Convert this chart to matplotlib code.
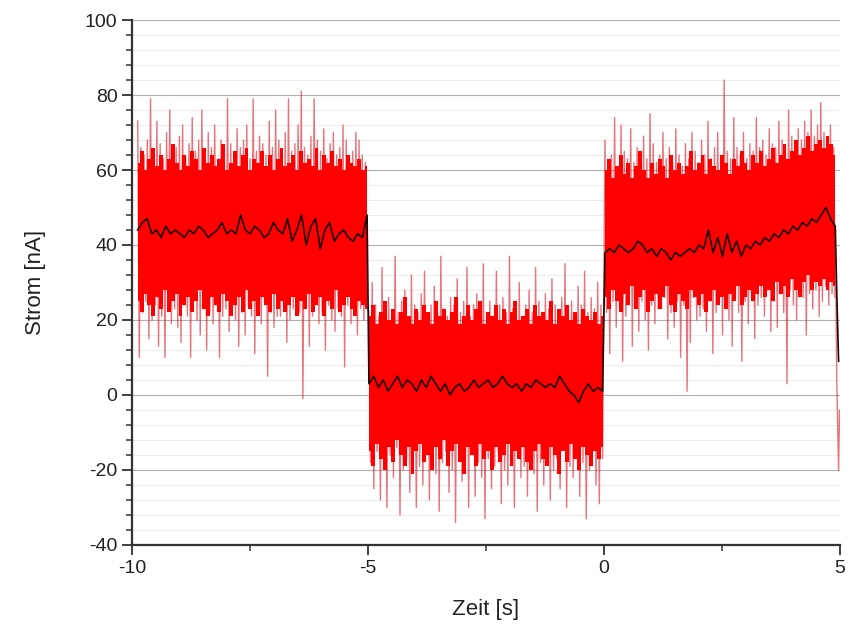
import numpy as np
import matplotlib.pyplot as plt
from matplotlib.ticker import MultipleLocator

# Peak values of the raw current trace (alternating high / low excursions)
seg1_hi = [73, 66, 64, 68, 79, 65, 73, 67, 63, 70, 76, 64, 66, 69, 72, 63, 67, 74, 65, 68, 76, 64, 70, 66,
           72, 63, 68, 65, 79, 67, 64, 71, 66, 68, 72, 63, 79, 65, 69, 67, 64, 73, 66, 76, 68, 64, 70, 79,
           65, 67, 72, 81, 66, 64, 69, 79, 68, 65, 71, 63, 67, 70, 64, 66, 72, 68, 63, 65, 70, 68, 64, 62]
seg1_lo = [10, 22, 25, 15, 20, 24, 13, 21, 10, 26, 19, 23, 18, 14, 24, 21, 10, 25, 20, 16, 23, 12, 22, 19,
           24, 10, 21, 23, 17, 25, 20, 13, 22, 16, 24, 21, 11, 23, 19, 25, 5, 22, 18, 21, 21, 24, 14, 20,
           23, 23, 22, -1, 24, 13, 21, 25, 19, 22, 12, 24, 20, 17, 23, 21, 7.5, 24, 19, 22, 16, 23, 20, 24]
seg2_hi = [22, 30, 24, 21, 34, 23, 26, 20, 37, 22, 25, 28, 21, 32, 24, 22, 27, 33, 21, 24, 29, 22, 37, 23,
           21, 26, 24, 31, 22, 25, 34, 21, 24, 27, 23, 35, 22, 25, 21, 33, 24, 26, 22, 37, 23, 25, 30, 21,
           24, 28, 22, 34, 25, 21, 27, 23, 31, 24, 22, 26, 35, 23, 25, 21, 29, 24, 33, 22, 26, 23, 30, 24]
seg2_lo = [-18, -25, -15, -28, -19, -30, -16, -22, -14, -32, -20, -17, -26, -15, -30, -19, -24, -16, -28, -14,
           -21, -31, -18, -15, -26, -20, -34, -17, -23, -19, -30, -16, -27, -18, -22, -33, -17, -25, -19, -15,
           -29, -20, -24, -18, -30, -16, -22, -19, -27, -15, -21, -31, -18, -24, -16, -28, -20, -17, -25, -14,
           -30, -19, -22, -16, -27, -18, -33, -20, -15, -24, -29, -17]
seg3_hi = [68, 62, 64, 74, 61, 72, 65, 63, 71, 62, 66, 64, 69, 63, 75, 67, 62, 64, 70, 63, 66, 62, 71, 64,
           61, 67, 63, 70, 65, 62, 68, 64, 73, 63, 66, 70, 62, 84, 65, 63, 74, 66, 64, 70, 63, 67, 65, 74,
           66, 68, 64, 71, 67, 66, 73, 68, 66, 76, 69, 67, 71, 68, 73, 70, 76, 69, 72, 78, 70, 68, 72, 66]
seg3_lo = [22, 11, 25, 18, 24, 9, 21, 26, 13, 23, 17, 25, 20, 12, 24, 19, 23, 23, 26, 15, 22, 18, 25, 10,
           24, 1, 14, 26, 20, 21, 23, 17, 25, 11, 22, 27, 16, 24, 20, 13, 26, 22, 9, 25, 19, 27, 15, 24,
           26, 21, 28, 17, 25, 18, 27, 22, 3, 28, 24, 20, 29, 26, 16, 27, 23, 28, 21, 25, 29, 24, 27, 26]
tail_t = [4.91, 4.93, 4.95, 4.97, 4.99]
tail_v = [35, 5, -8, -20, -4]

# Edges of the dense core of the noise band
core1_hi = [62, 65, 60, 63, 66, 61, 64, 60, 63, 67, 62, 60, 64, 61, 65, 63, 60, 66, 62, 64,
            61, 63, 67, 60, 62, 65, 61, 64, 66, 60, 63, 62, 65, 61, 64, 60, 63, 66, 61, 62,
            64, 60, 65, 62, 63, 61, 66, 60, 64, 62, 65, 61, 63, 60, 64, 62, 61, 63, 60, 61]
core1_lo = [25, 22, 27, 24, 21, 26, 23, 28, 22, 25, 27, 21, 24, 26, 22, 25, 28, 23, 21, 26,
            24, 22, 27, 25, 21, 24, 26, 22, 28, 23, 25, 21, 26, 24, 22, 27, 23, 25, 22, 24,
            26, 21, 25, 23, 27, 22, 24, 26, 21, 25, 23, 28, 22, 24, 26, 23, 21, 25, 24, 23]
core2_hi = [21, 24, 19, 22, 25, 20, 23, 19, 22, 26, 21, 19, 23, 20, 24, 22, 19, 25, 21, 23,
            20, 22, 26, 19, 21, 24, 20, 23, 25, 19, 22, 21, 24, 20, 23, 19, 22, 25, 20, 21,
            23, 19, 24, 21, 22, 20, 25, 19, 23, 21, 24, 20, 22, 19, 23, 21, 20, 22, 19, 21]
core2_lo = [-15, -19, -13, -17, -20, -14, -18, -12, -16, -19, -14, -21, -15, -13, -18, -16, -20, -14, -17, -12,
            -19, -15, -13, -18, -21, -14, -16, -19, -13, -17, -15, -20, -14, -18, -16, -13, -19, -15, -17, -14,
            -18, -20, -15, -13, -17, -19, -14, -16, -21, -15, -18, -13, -17, -20, -14, -16, -19, -15, -17, -14]
core3_hi = [60, 63, 58, 61, 64, 59, 62, 58, 61, 65, 60, 58, 62, 59, 63, 61, 58, 64, 60, 62,
            59, 61, 65, 60, 62, 64, 59, 63, 61, 60, 64, 62, 59, 63, 61, 65, 62, 60, 64, 62,
            65, 61, 63, 66, 62, 64, 67, 63, 65, 68, 64, 66, 69, 65, 67, 68, 66, 69, 67, 64]
core3_lo = [26, 23, 28, 25, 22, 27, 24, 29, 23, 26, 28, 22, 25, 27, 23, 26, 29, 24, 22, 27,
            25, 23, 28, 26, 24, 27, 22, 25, 28, 24, 26, 23, 27, 25, 29, 24, 26, 28, 25, 27,
            29, 26, 28, 25, 30, 27, 29, 26, 31, 28, 26, 30, 32, 28, 30, 29, 31, 28, 30, 29]

# Smoothed current (running mean)
seg1_mean = [44, 46, 47, 43, 44, 42, 45, 43, 44, 43, 42, 44, 43, 45, 44, 42, 43, 44, 46, 43, 44, 43, 48, 44, 43,
             45, 44, 42, 43, 46, 44, 43, 47, 41, 44, 48, 40, 45, 47, 39, 44, 46, 41, 43, 44, 42, 41, 43, 42, 48]
seg2_mean = [3, 5, 2, 4, 1, 3, 5, 2, 4, 3, 1, 4, 2, 5, 3, 1, 3, 0, 2, 3, 1, 2, 4, 2, 3,
             4, 2, 3, 5, 3, 2, 3, 1, 3, 2, 4, 3, 2, 3, 2, 5, 3, 1, 0, -2, 1, 3, 1, 2, 1]
seg3_mean = [38, 39, 38, 40, 39, 38, 39, 41, 40, 38, 39, 37, 39, 38, 36, 38, 37, 38, 39, 38, 40, 39, 44, 38, 42,
             37, 43, 38, 41, 37, 40, 39, 41, 40, 42, 41, 43, 42, 44, 43, 45, 44, 46, 45, 47, 46, 48, 50, 47, 45]
mean_tail_t = [4.93, 4.97]
mean_tail_v = [28, 9]

segments = [(-9.88, -5.02), (-4.98, -0.03), (0.02, 4.9)]


def interleave(hi, lo):
    out = []
    for h, l in zip(hi, lo):
        out += [h, l]
    return out


raw_t, raw_v, mean_t, mean_v = [], [], [], []
cores = []
for (t0, t1), hi, lo, mv, chi, clo in zip(segments,
                                          [seg1_hi, seg2_hi, seg3_hi], [seg1_lo, seg2_lo, seg3_lo],
                                          [seg1_mean, seg2_mean, seg3_mean],
                                          [core1_hi, core2_hi, core3_hi], [core1_lo, core2_lo, core3_lo]):
    v = interleave(hi, lo)
    raw_t += list(np.linspace(t0, t1, len(v)))
    raw_v += v
    mean_t += list(np.linspace(t0, t1, len(mv)))
    mean_v += mv
    cores.append((np.linspace(t0, t1, len(chi)), clo, chi))
raw_t += tail_t
raw_v += tail_v
mean_t += mean_tail_t
mean_v += mean_tail_v

plt.rcParams['font.family'] = ['Liberation Sans', 'DejaVu Sans']
plt.rcParams['axes.unicode_minus'] = False
fig = plt.figure(figsize=(8.54, 6.31), dpi=100)
ax = fig.add_axes([0.1546, 0.1363, 0.829, 0.832])

# raw trace underneath, dense core on top so the middle stays solid red
ax.plot(raw_t, raw_v, color='#dc1e2a', lw=1.0, alpha=0.62, zorder=2)
for ct, clo, chi in cores:
    ax.fill_between(ct, clo, chi, step='mid', color='#ff0000', lw=0, zorder=3)
ax.plot(mean_t, mean_v, color='#1a0000', lw=1.2, zorder=4)

ax.set_xlim(-10, 5)
ax.set_ylim(-40, 100)
ax.xaxis.set_major_locator(MultipleLocator(5))
ax.xaxis.set_minor_locator(MultipleLocator(2.5))
ax.yaxis.set_major_locator(MultipleLocator(20))
ax.yaxis.set_minor_locator(MultipleLocator(4))

ax.grid(axis='y', which='major', color='#b0b0b0', lw=0.8, zorder=0)
ax.grid(axis='y', which='minor', color='#ececec', lw=0.7, zorder=0)
ax.set_axisbelow(True)

for s in ['top', 'right']:
    ax.spines[s].set_visible(False)
for s in ['left', 'bottom']:
    ax.spines[s].set_linewidth(1.6)
    ax.spines[s].set_color('#333333')

ax.tick_params(which='major', direction='out', length=7, width=1.3, colors='#333333',
               labelsize=14, labelcolor='#222222')
ax.tick_params(which='minor', direction='out', length=4, width=1.1, colors='#333333')

ax.set_xlabel('Zeit [s]', fontsize=16, color='#222222', labelpad=16)
ax.set_ylabel('Strom [nA]', fontsize=16, color='#222222', labelpad=28)

fig.savefig('out.png', dpi=100)
